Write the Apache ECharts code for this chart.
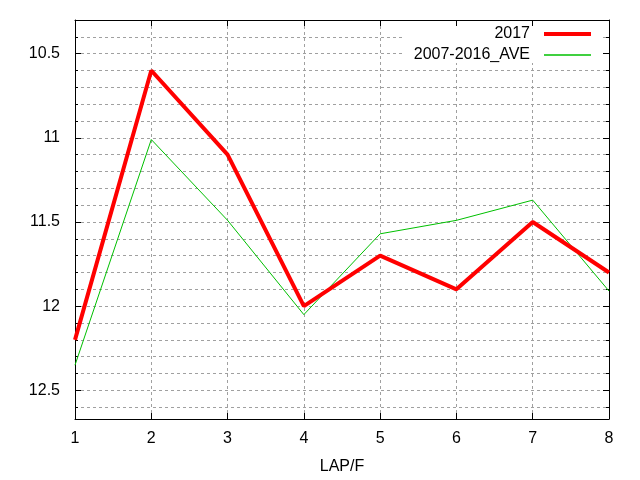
<!DOCTYPE html>
<html>
<head>
<meta charset="utf-8">
<script src="https://cdn.jsdelivr.net/npm/echarts@6/dist/echarts.min.js"></script>
<style>
html,body{margin:0;padding:0;background:#fff;}
#c{width:640px;height:480px;}
</style>
</head>
<body>
<div id="c"></div>
<script>
var laps = [1, 2, 3, 4, 5, 6, 7, 8];
var y2017 = [12.2, 10.6, 11.1, 12.0, 11.7, 11.9, 11.5, 11.8];
var yAve = [12.35, 11.01, 11.49, 12.05, 11.57, 11.49, 11.37, 11.91];
var seriesNames = ['2017', '2007-2016_AVE'];
var yMajorTicks = [10.5, 11, 11.5, 12, 12.5];
var xTicks = [1, 2, 3, 4, 5, 6, 7, 8];

function pairs(xs, ys) { return xs.map(function (x, i) { return [x, ys[i]]; }); }

var FONT = 'Liberation Sans';
var yBase = { type: 'value', inverse: true, min: 10.3, max: 12.67, interval: 0.1 };
function yAx(extra) { return Object.assign({}, yBase, extra); }

var chart = echarts.init(document.getElementById('c'), null, { renderer: 'canvas' });
chart.setOption({
  animation: false,
  backgroundColor: '#ffffff',
  grid: { left: 75, right: 31, top: 20, bottom: 61 },
  legend: {
    orient: 'vertical', right: 37, top: 26, padding: [0, 12, 0, 9],
    backgroundColor: '#ffffff',
    align: 'right', itemWidth: 47, itemHeight: 14, itemGap: 5,
    textStyle: { fontFamily: FONT, fontSize: 16, color: '#000', padding: [0, 9, 0, 0] },
    itemStyle: { borderWidth: 0 },
    data: [
      { name: seriesNames[0], icon: 'path://M0,0H47V4H0Z', itemStyle: { color: '#ff0000', borderWidth: 0 } },
      { name: seriesNames[1], icon: 'path://M0,0H47V1.5H0Z', itemStyle: { color: '#00c000', borderWidth: 0 } }
    ]
  },
  xAxis: [
    {
      type: 'value', min: 1, max: 8, interval: 1, position: 'bottom',
      name: 'LAP/F', nameLocation: 'middle', nameGap: 40,
      nameTextStyle: { fontFamily: FONT, fontSize: 16, color: '#000' },
      axisLine: { show: true, lineStyle: { color: '#000', width: 1 } },
      axisTick: { show: true, inside: true, length: 6, lineStyle: { color: '#000' } },
      axisLabel: { fontFamily: FONT, fontSize: 16, color: '#000', margin: 12,
        customValues: xTicks },
      splitLine: { show: true, lineStyle: { color: '#a0a0a0', type: [3, 3], width: 1 } }
    },
    {
      type: 'value', min: 1, max: 8, interval: 1, position: 'top',
      axisLine: { show: true, onZero: false, lineStyle: { color: '#000', width: 1 } },
      axisTick: { show: true, inside: true, length: 6, lineStyle: { color: '#000' } },
      axisLabel: { show: false },
      splitLine: { show: false }
    }
  ],
  yAxis: [
    yAx({
      position: 'left',
      axisLine: { show: true, lineStyle: { color: '#000', width: 1 } },
      axisTick: { show: true, inside: true, length: 6, customValues: yMajorTicks, lineStyle: { color: '#000' } },
      axisLabel: { fontFamily: FONT, fontSize: 16, color: '#000', margin: 15, customValues: yMajorTicks,
        formatter: function (v) { return String(v); } },
      splitLine: { show: false }
    }),
    yAx({
      position: 'left',
      axisLine: { show: false },
      axisTick: { show: true, inside: true, length: 3, lineStyle: { color: '#000' } },
      axisLabel: { show: false },
      splitLine: { show: true, lineStyle: { color: '#a0a0a0', type: [3, 3], width: 1 } }
    }),
    yAx({
      position: 'right',
      axisLine: { show: true, onZero: false, lineStyle: { color: '#000', width: 1 } },
      axisTick: { show: true, inside: true, length: 6, customValues: yMajorTicks, lineStyle: { color: '#000' } },
      axisLabel: { show: false },
      splitLine: { show: false }
    }),
    yAx({
      position: 'right',
      axisLine: { show: false },
      axisTick: { show: true, inside: true, length: 3, lineStyle: { color: '#000' } },
      axisLabel: { show: false },
      splitLine: { show: false }
    })
  ],
  series: [
    {
      name: seriesNames[0], type: 'line', xAxisIndex: 0, yAxisIndex: 0,
      data: pairs(laps, y2017), symbol: 'none', showSymbol: false,
      lineStyle: { color: '#ff0000', width: 4 }, itemStyle: { color: '#ff0000' }, z: 3
    },
    {
      name: seriesNames[1], type: 'line', xAxisIndex: 0, yAxisIndex: 0,
      data: pairs(laps, yAve), symbol: 'none', showSymbol: false,
      lineStyle: { color: '#00c000', width: 1 }, itemStyle: { color: '#00c000' }, z: 2
    }
  ]
});
</script>
</body>
</html>
